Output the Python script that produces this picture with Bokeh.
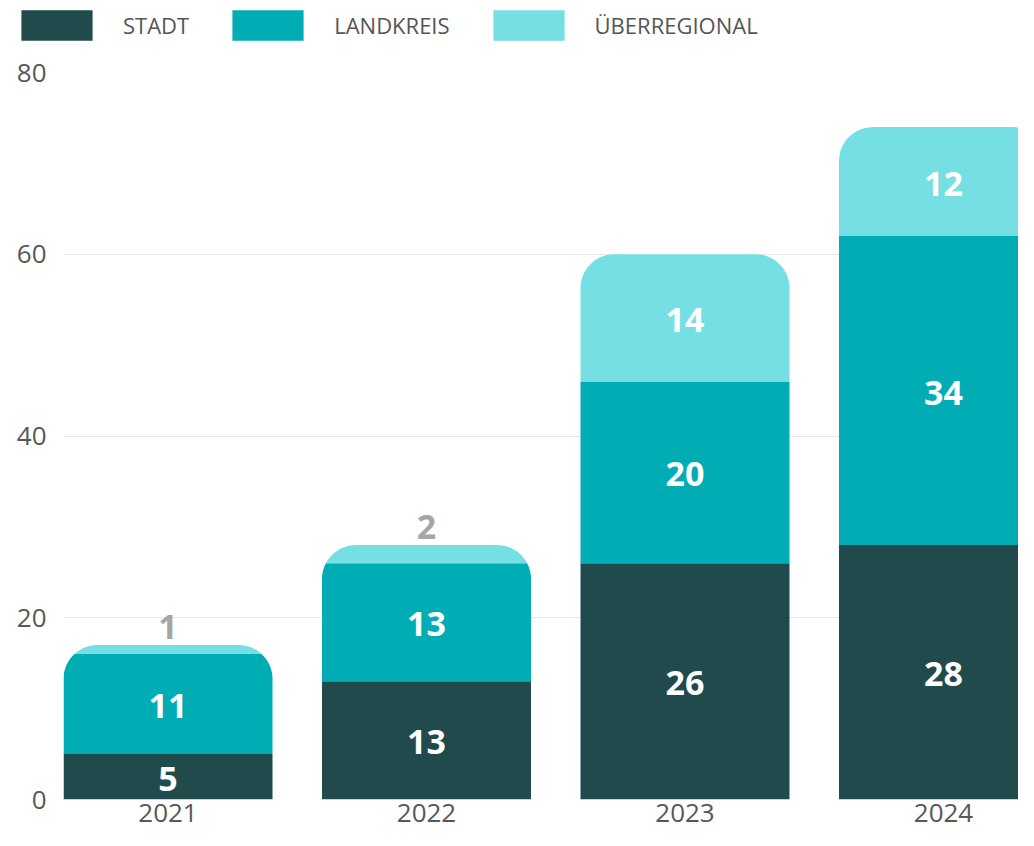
import numpy as np
from bokeh.plotting import figure
from bokeh.layouts import column
from bokeh.models import ColumnDataSource, FixedTicker, Legend, LegendItem, Range1d
from bokeh.core.properties import value
from bokeh.embed import file_html
from bokeh.resources import INLINE

# ---- data ----
years = ["2021", "2022", "2023", "2024"]
stadt = [5, 13, 26, 28]
landkreis = [11, 13, 20, 34]
ueberregional = [1, 2, 14, 12]
series_names = ["STADT", "LANDKREIS", "ÜBERREGIONAL"]
colors = ["#214a4c", "#00adb5", "#76dfe3"]
y_ticks = [0, 20, 40, 60, 80]

# ---- layout ----
W = 1018
LEG_H = 46
H = 784
BL, BR, BT, BB = 63, 0, 26, 31
X0 = -0.4043
PX_PER_CAT = 258.5
X1 = X0 + (W - BL - BR) / PX_PER_CAT
Y0, Y1 = 0, 80
BAR_W = 0.8085
R_PX = 34
FONT = "Open Sans"

fw = W - BL - BR
fh = H - BT - BB
ppx = fw / (X1 - X0)
ppy = fh / (Y1 - Y0)
rx = R_PX / ppx
ry = R_PX / ppy


def half_width(y, top):
    hw = BAR_W / 2
    yc = top - ry
    if y <= yc:
        return hw
    t = min((y - yc) / ry, 1.0)
    return hw - rx + rx * np.sqrt(max(0.0, 1 - t * t))


def segment_patch(xc, y0, y1, top):
    yc = top - ry
    if y1 > yc:
        start = max(y0, yc)
        ys = ([y0] if y0 < start else []) + list(np.linspace(start, y1, 40))
    else:
        ys = [y0, y1]
    xs_left = [xc - half_width(y, top) for y in ys]
    xs_right = [xc + half_width(y, top) for y in reversed(ys)]
    return xs_left + xs_right, list(ys) + list(reversed(ys))


p = figure(width=W, height=H, output_backend="svg", toolbar_location=None,
           x_range=Range1d(X0, X1), y_range=Range1d(Y0, Y1),
           min_border_left=BL, min_border_right=BR, min_border_top=BT,
           min_border_bottom=BB)
p.frame_align = False
p.outline_line_color = None
p.background_fill_color = "white"
p.border_fill_color = "white"

series = [stadt, landkreis, ueberregional]
totals = [sum(v) for v in zip(*series)]
lab_x, lab_y, lab_t, lab_c, lab_base, lab_off = [], [], [], [], [], []
bottoms = [0] * len(years)
sources = []
for si, vals in enumerate(series):
    xs_all, ys_all = [], []
    for i, v in enumerate(vals):
        b = bottoms[i]
        t = b + v
        xs, ys = segment_patch(i, b, t, totals[i])
        xs_all.append(xs)
        ys_all.append(ys)
        lab_x.append(i)
        lab_t.append(str(v))
        if v * ppy < 40:
            lab_y.append(totals[i]); lab_c.append("#a6a6a6")
            lab_base.append("bottom"); lab_off.append(-6)
        else:
            lab_y.append(b + v / 2); lab_c.append("white")
            lab_base.append("middle"); lab_off.append(2)
        bottoms[i] = t
    src = ColumnDataSource(dict(xs=xs_all, ys=ys_all))
    sources.append(src)
    p.patches("xs", "ys", source=src, fill_color=colors[si], line_color=None)

lsrc = ColumnDataSource(dict(x=lab_x, y=lab_y, text=lab_t, color=lab_c,
                             base=lab_base, off=lab_off))
p.text("x", "y", text="text", source=lsrc, text_color="color",
       text_align="center", text_baseline="base", y_offset="off",
       text_font=value(FONT), text_font_style="bold", text_font_size="34px")

# axes
p.xaxis.ticker = FixedTicker(ticks=list(range(len(years))))
p.xaxis.major_label_overrides = {i: y for i, y in enumerate(years)}
p.yaxis.ticker = FixedTicker(ticks=y_ticks)
for ax in (p.xaxis[0], p.yaxis[0]):
    ax.axis_line_color = None
    ax.major_tick_line_color = None
    ax.minor_tick_line_color = None
    ax.major_tick_out = 0
    ax.major_tick_in = 0
    ax.minor_tick_out = 0
    ax.major_label_text_font = FONT
    ax.major_label_text_font_size = "26px"
    ax.major_label_text_color = "#585858"
p.yaxis.major_label_standoff = 17
p.xaxis.major_label_standoff = 4
p.xgrid.grid_line_color = None
p.ygrid.grid_line_color = "#e6e6e6"
p.ygrid.grid_line_width = 1

# ---- legend strip on top (its renderers share the data but are hidden) ----
lf = figure(width=W, height=LEG_H, output_backend="svg", toolbar_location=None,
            x_range=Range1d(0, W), y_range=Range1d(0, LEG_H),
            min_border_left=0, min_border_right=0, min_border_top=0,
            min_border_bottom=0)
lf.frame_align = False
lf.axis.visible = False
lf.grid.visible = False
lf.outline_line_color = None
leg_renderers = []
for src, c in zip(sources, colors):
    r = lf.patches("xs", "ys", source=src, fill_color=c, line_color=None)
    r.visible = False
    leg_renderers.append(r)
legend = Legend(items=[LegendItem(label=n, renderers=[r]) for n, r in zip(series_names, leg_renderers)],
                orientation="horizontal", location=(12, 2),
                glyph_width=89, glyph_height=38, label_standoff=22, spacing=34,
                padding=0, margin=0, border_line_color=None, background_fill_alpha=0,
                label_text_font=FONT, label_text_font_size="22px",
                label_text_color="#555555")
lf.add_layout(legend)

layout = column(lf, p, spacing=0)
open("out.html", "w").write(file_html(layout, INLINE))
